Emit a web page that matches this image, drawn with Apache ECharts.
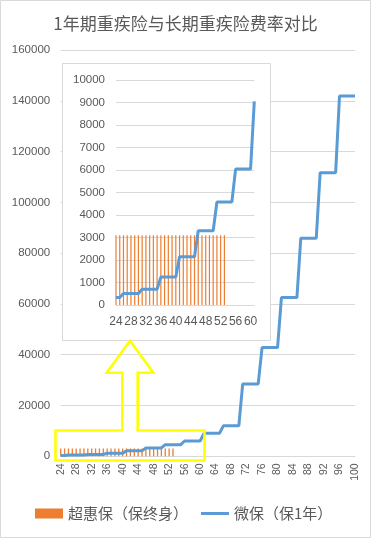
<!DOCTYPE html>
<html>
<head>
<meta charset="utf-8">
<script src="https://cdn.jsdelivr.net/npm/echarts@6/dist/echarts.min.js"></script>
<style>html,body{margin:0;padding:0;background:#fff;}#c{width:371px;height:538px;}</style>
</head>
<body>
<div id="c"></div>
<script>
var ages = [24,25,26,27,28,29,30,31,32,33,34,35,36,37,38,39,40,41,42,43,44,45,46,47,48,49,50,51,52,53,54,55,56,57,58,59,60,61,62,63,64,65,66,67,68,69,70,71,72,73,74,75,76,77,78,79,80,81,82,83,84,85,86,87,88,89,90,91,92,93,94,95,96,97,98,99,100];
var weibao = [330,330,510,510,510,510,510,700,700,700,700,700,1240,1240,1240,1240,1240,2140,2140,2140,2140,2140,3300,3300,3300,3300,3300,4580,4580,4580,4580,4580,6040,6040,6040,6040,6040,9050,9050,9050,9050,9050,12000,12000,12000,12000,12000,28500,28500,28500,28500,28500,42800,42800,42800,42800,42800,62500,62500,62500,62500,62500,85900,85900,85900,85900,85900,111700,111700,111700,111700,111700,141900,141900,141900,141900,141900];
var chaohuibao = [3100,3100,3100,3100,3100,3100,3100,3100,3100,3100,3100,3100,3100,3100,3100,3100,3100,3100,3100,3100,3100,3100,3100,3100,3100,3100,3100,3100,3100,3100];
var mainYTicks = [0,20000,40000,60000,80000,100000,120000,140000,160000];
var insetYTicks = [0,1000,2000,3000,4000,5000,6000,7000,8000,9000,10000];
var insetAges = ages.slice(0, 38);
var insetWeibao = weibao.slice(0, 38);
var titleText = '1年期重疾险与长期重疾险费率对比';
var nameA = '超惠保（保终身）';
var nameB = '微保（保1年）';

var grey = '#595959', gridC = '#D9D9D9', orange = '#ED7D31', blue = '#5B9BD5';
var plain = function (v) { return String(v); };
var chart = echarts.init(document.getElementById('c'), null, {renderer: 'canvas'});
chart.setOption({
  animation: false,
  backgroundColor: '#fff',
  title: {text: titleText, left: 'center', top: 10,
    textStyle: {color: grey, fontSize: 17, fontWeight: 'normal', fontFamily: 'Noto Sans CJK SC'}},
  legend: {left: 35, top: 506, padding: 0, itemWidth: 28, itemHeight: 10, itemGap: 13, symbolKeepAspect: true,
    textStyle: {color: grey, fontSize: 15, fontFamily: 'Noto Sans CJK SC'},
    data: [{name: nameA, icon: 'rect'}, {name: nameB, icon: 'path://M0,0 L28,0 L28,3 L0,3 Z', itemStyle: {color: blue}}]},
  grid: [
    {left: 60.7, right: 16, top: 50, bottom: 81.7},
    {left: 116, right: 116.7, top: 80, bottom: 233}
  ],
  xAxis: [
    {type: 'category', gridIndex: 0, data: ages, boundaryGap: false,
      axisLine: {lineStyle: {color: gridC}}, axisTick: {show: false},
      axisLabel: {interval: 3, rotate: 90, margin: 7, color: grey, fontSize: 10.5, fontFamily: 'Liberation Sans'}},
    {type: 'category', gridIndex: 1, data: insetAges, boundaryGap: false, z: 4,
      axisLine: {lineStyle: {color: gridC}}, axisTick: {show: false},
      axisLabel: {interval: 3, margin: 11, color: grey, fontSize: 12, fontFamily: 'Liberation Sans'}}
  ],
  yAxis: [
    {type: 'value', gridIndex: 0, min: mainYTicks[0], max: mainYTicks[mainYTicks.length-1], interval: mainYTicks[1]-mainYTicks[0],
      axisLine: {show: false}, axisTick: {show: false},
      splitLine: {lineStyle: {color: gridC}},
      axisLabel: {margin: 10.5, color: grey, fontSize: 11.5, fontFamily: 'Liberation Sans', formatter: plain}},
    {type: 'value', gridIndex: 1, min: insetYTicks[0], max: insetYTicks[insetYTicks.length-1], interval: insetYTicks[1]-insetYTicks[0], z: 4,
      axisLine: {show: false}, axisTick: {show: false},
      splitLine: {lineStyle: {color: gridC}},
      axisLabel: {margin: 11, color: grey, fontSize: 11.5, fontFamily: 'Liberation Sans', formatter: plain}}
  ],
  graphic: [
    {type: 'rect', z: 0, shape: {x: 0.5, y: 0.5, width: 370, height: 537}, style: {fill: null, stroke: gridC, lineWidth: 1}},
    {type: 'rect', z: 3, shape: {x: 62.5, y: 63.5, width: 208, height: 277}, style: {fill: '#fff', stroke: gridC, lineWidth: 1}},
    {type: 'polygon', z: 20, shape: {points: [[55.5,430.5],[122.3,430.5],[122.3,372.7],[106.7,372.7],[130,340.7],[153.3,372.7],[137.7,372.7],[137.7,430.5],[204.5,430.5],[204.5,460.5],[55.5,460.5]]},
      style: {fill: null, stroke: '#FFFF00', lineWidth: 2.6}}
  ],
  series: [
    {name: nameA, type: 'bar', xAxisIndex: 0, yAxisIndex: 0, data: chaohuibao, barWidth: 1.3, itemStyle: {color: orange}, z: 2},
    {name: nameB, type: 'line', xAxisIndex: 0, yAxisIndex: 0, data: weibao, symbol: 'none', showSymbol: false, lineStyle: {color: blue, width: 3}, itemStyle: {color: blue}, z: 2},
    {name: nameA, type: 'bar', xAxisIndex: 1, yAxisIndex: 1, data: chaohuibao, barWidth: 1.2, itemStyle: {color: orange}, z: 5},
    {name: nameB, type: 'line', xAxisIndex: 1, yAxisIndex: 1, data: insetWeibao, symbol: 'none', showSymbol: false, lineStyle: {color: blue, width: 3}, itemStyle: {color: blue}, z: 5}
  ]
});
</script>
</body>
</html>
